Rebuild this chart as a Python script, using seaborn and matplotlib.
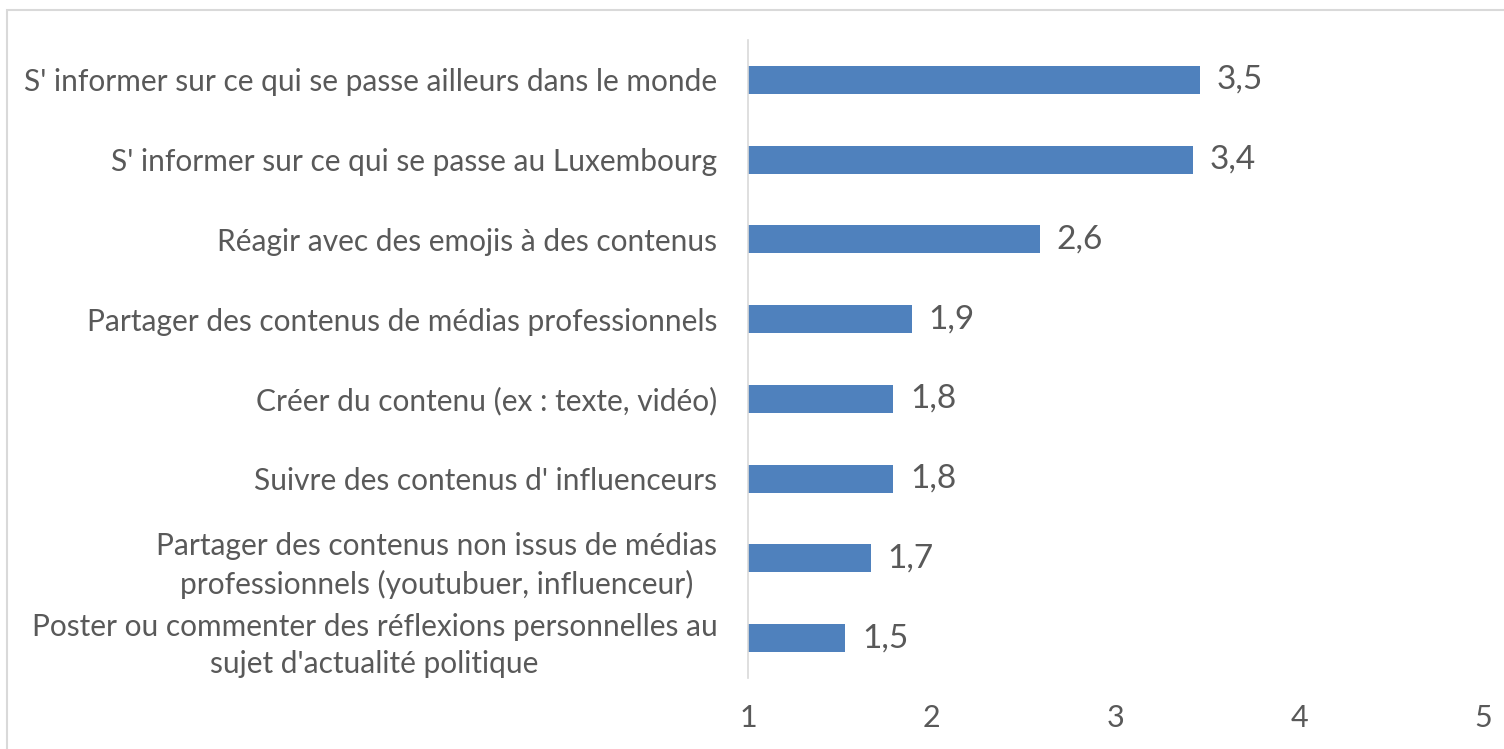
import numpy as np
import pandas as pd
import seaborn as sns
import matplotlib.pyplot as plt
from matplotlib.patches import Rectangle

# Data
activites = [
    "S' informer sur ce qui se passe ailleurs dans le monde",
    "S' informer sur ce qui se passe au Luxembourg",
    "Réagir avec des emojis à des contenus",
    "Partager des contenus de médias professionnels",
    "Créer du contenu (ex : texte, vidéo)",
    "Suivre des contenus d' influenceurs",
    "Partager des contenus non issus de médias\nprofessionnels (youtubuer, influenceur)",
    "Poster ou commenter des réflexions personnelles au\nsujet d'actualité politique",
]
scores = [3.46, 3.42, 2.59, 1.89, 1.79, 1.79, 1.67, 1.53]
ticks = [1, 2, 3, 4, 5]

df = pd.DataFrame({"activite": activites, "score": scores})

sns.set_style("white")
plt.rcParams['font.family'] = ['Lato', 'DejaVu Sans']
txt = "#595959"

fig = plt.figure(figsize=(15.04, 7.49), dpi=100)
ax = fig.add_axes([748/1504, 1 - 678/749, (1483 - 748)/1504, (678 - 40)/749])

sns.barplot(data=df, x="score", y="activite", color="#4F81BD", width=0.35,
            linewidth=0, saturation=1, ax=ax)

ax.set_xlim(1, 5)
ax.set_xticks(ticks)
ax.set_xticklabels([str(t) for t in ticks])
ax.set_xlabel("")
ax.set_ylabel("")

for s in ["top", "right", "bottom"]:
    ax.spines[s].set_visible(False)
ax.spines["left"].set_color("#D9D9D9")
ax.spines["left"].set_linewidth(1.2)

ax.tick_params(axis="x", length=0, pad=19, labelsize=22, labelcolor=txt)
ax.tick_params(axis="y", length=0, pad=22, labelsize=21.5, labelcolor=txt)
for lab in ax.get_yticklabels():
    lab.set_multialignment("center")
    lab.set_linespacing(1.4)
# the two-line labels sit a little higher in the original
for lab in ax.get_yticklabels()[-2:]:
    lab.set_va("center_baseline")

ax.bar_label(ax.containers[0], labels=[f"{v:.1f}".replace(".", ",") for v in scores],
             padding=12, fontsize=24, color=txt)

# outer frame
fig.patches.append(Rectangle((7/1504, -0.01), 1.0, 1 - 10/749 + 0.01,
                             transform=fig.transFigure, fill=False,
                             edgecolor="#D9D9D9", linewidth=1.5))

fig.savefig("out.png", dpi=100)
